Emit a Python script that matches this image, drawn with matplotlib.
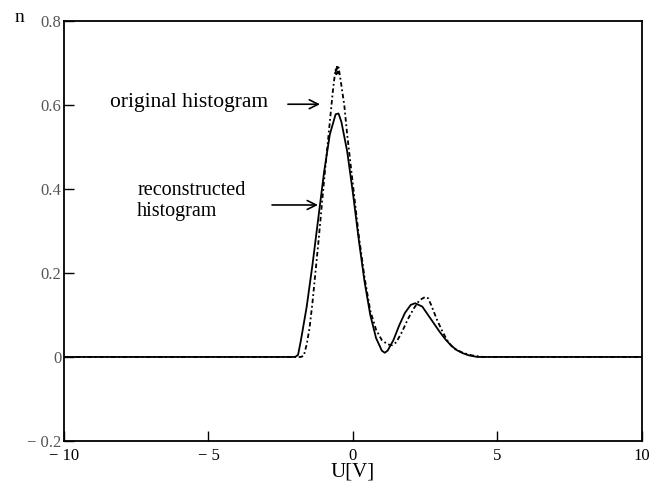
import matplotlib
matplotlib.use('Agg')
import matplotlib.pyplot as plt

# reconstructed histogram (solid line)
u_rec = [-10, -2.0, -1.9, -1.8, -1.6, -1.4, -1.2, -1.0, -0.8, -0.6, -0.5, -0.4, -0.2,
         0.0, 0.2, 0.4, 0.6, 0.8, 1.0, 1.1, 1.2, 1.4, 1.6, 1.8, 2.0, 2.15, 2.4, 2.6,
         2.8, 3.0, 3.2, 3.4, 3.6, 3.8, 4.0, 4.3, 10]
n_rec = [0, 0, 0.005, 0.04, 0.12, 0.22, 0.33, 0.44, 0.53, 0.578, 0.58, 0.56, 0.49,
         0.39, 0.28, 0.18, 0.10, 0.045, 0.015, 0.01, 0.015, 0.04, 0.075, 0.105, 0.124, 0.128, 0.12, 0.10,
         0.08, 0.06, 0.042, 0.027, 0.016, 0.009, 0.004, 0, 0]

# original histogram (dash-dot line)
u_org = [-10, -1.8, -1.7, -1.6, -1.5, -1.4, -1.2, -1.0, -0.8, -0.7, -0.65, -0.6, -0.58,
         -0.55, -0.52, -0.5, -0.45, -0.3, -0.2, 0.0, 0.2, 0.4, 0.6, 0.8, 1.0, 1.2, 1.35,
         1.5, 1.7, 1.9, 2.1, 2.3, 2.5, 2.6, 2.7, 2.9, 3.1, 3.3, 3.5, 3.8, 4.1, 4.5, 10]
n_org = [0, 0, 0.003, 0.03, 0.07, 0.13, 0.27, 0.42, 0.56, 0.63, 0.66, 0.685, 0.67,
         0.695, 0.675, 0.69, 0.67, 0.60, 0.53, 0.41, 0.29, 0.19, 0.11, 0.065, 0.04, 0.03, 0.028,
         0.035, 0.06, 0.09, 0.115, 0.135, 0.143, 0.14, 0.125, 0.09, 0.06, 0.035, 0.02, 0.01, 0.004, 0, 0]

x_ticks = [-10, -5, 0, 5, 10]
x_ticklabels = ['\u2212 10', '\u2212 5', '0', '5', '10']
y_ticks = [-0.2, 0, 0.2, 0.4, 0.6, 0.8]
y_ticklabels = ['\u2212 0.2', '0', '0.2', '0.4', '0.6', '0.8']

plt.rcParams['font.family'] = ['Liberation Serif', 'DejaVu Serif']

fig = plt.figure(figsize=(6.53, 4.91), dpi=100)
ax = fig.add_axes([0.098, 0.102, 0.885, 0.855])

ax.plot(u_rec, n_rec, color='black', lw=1.3, linestyle='-')
ax.plot(u_org, n_org, color='black', lw=1.3, linestyle=(0, (2.5, 1.5, 1, 1.5)))

ax.set_xlim(-10, 10)
ax.set_ylim(-0.2, 0.8)
ax.set_xticks(x_ticks)
ax.set_xticklabels(x_ticklabels, fontsize=12)
ax.set_yticks(y_ticks)
ax.set_yticklabels(y_ticklabels, fontsize=12, color='#555555')
ax.tick_params(direction='in', length=7, width=1)
ax.tick_params(axis='x', pad=5)
ax.tick_params(axis='y', pad=2)
for s in ax.spines.values():
    s.set_linewidth(1.3)

ax.set_xlabel('U[V]', fontsize=15, labelpad=-1)
fig.text(15 / 653, 1 - 18 / 491, 'n', fontsize=14, ha='left', va='center')

# labels with arrows pointing at the curves
ax.text(-8.41, 0.607, 'original histogram', fontsize=15.5, va='center', ha='left')
ax.annotate('', xy=(-1.14, 0.602), xytext=(-2.25, 0.602),
            arrowprops=dict(arrowstyle='->', lw=1.2, color='black',
                            shrinkA=0, shrinkB=0, mutation_scale=16))
ax.text(-7.47, 0.371, 'reconstructed\nhistogram', fontsize=14.5, va='center', ha='left',
        linespacing=1.15)
ax.annotate('', xy=(-1.21, 0.362), xytext=(-2.8, 0.362),
            arrowprops=dict(arrowstyle='->', lw=1.2, color='black',
                            shrinkA=0, shrinkB=0, mutation_scale=16))

fig.savefig('out.png', dpi=100)
